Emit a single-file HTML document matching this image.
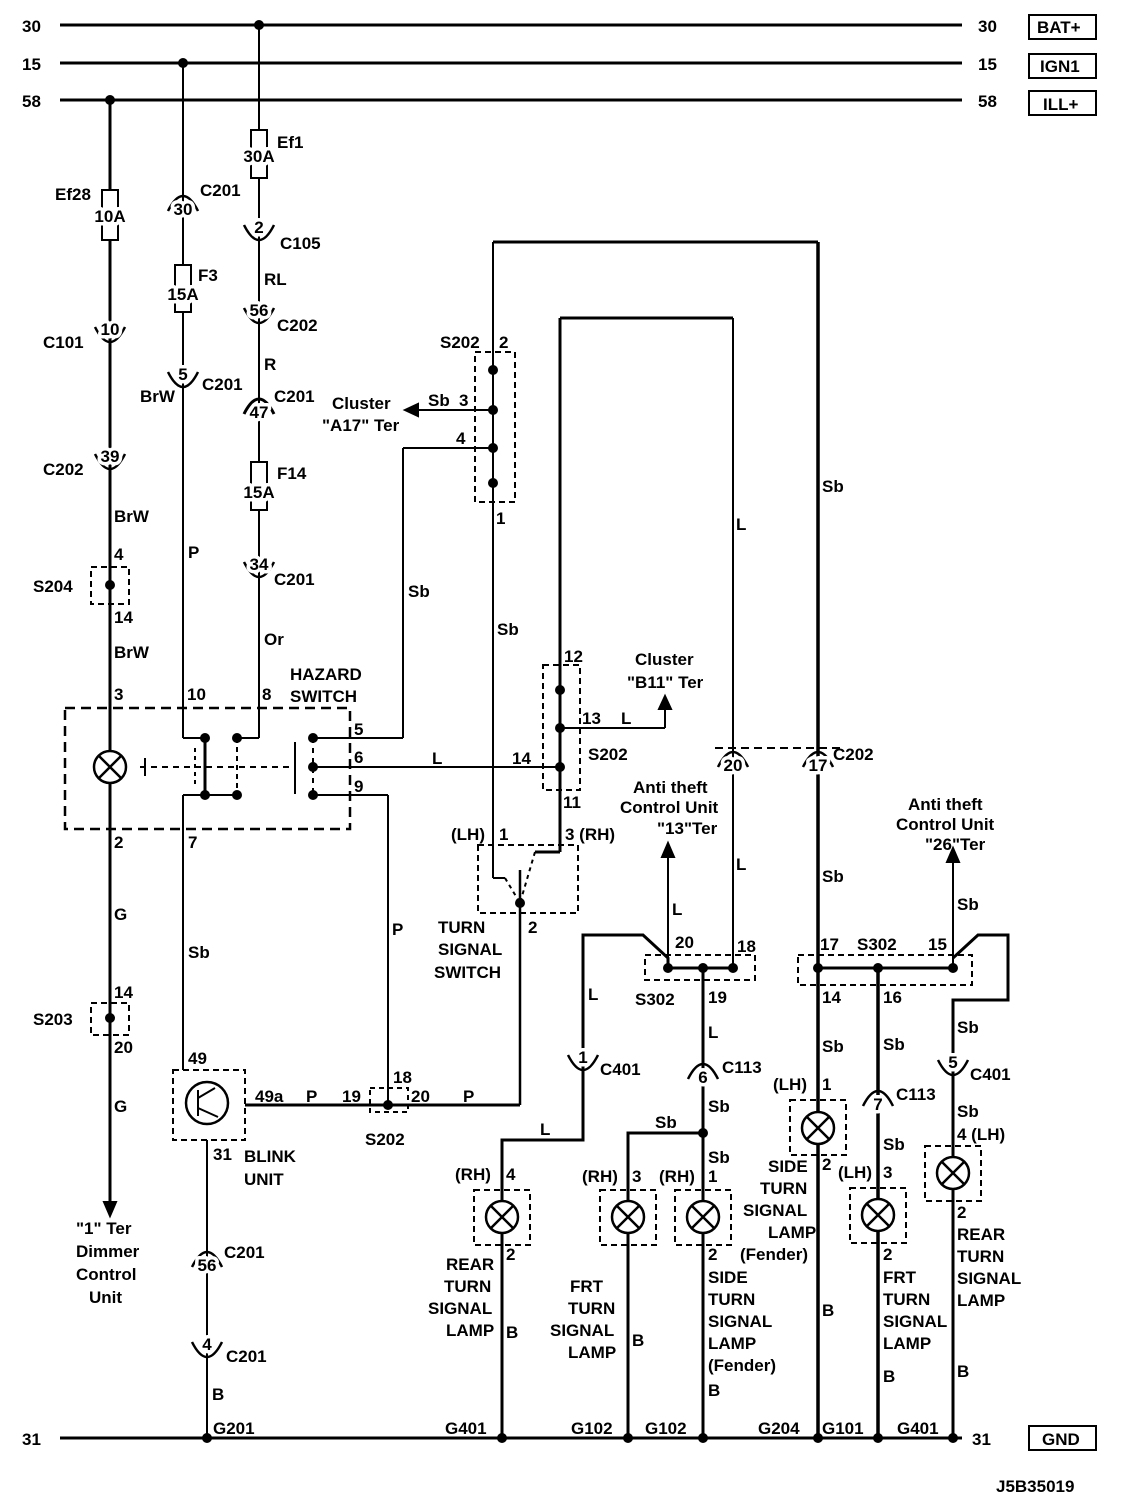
<!DOCTYPE html>
<html><head><meta charset="utf-8"><style>
html,body{margin:0;padding:0;background:#fff}
svg{display:block}
text{font-family:"Liberation Sans",Arial,sans-serif;font-size:17px;font-weight:bold;fill:#000}
text.k{paint-order:stroke;stroke:#fff;stroke-width:7px;stroke-linejoin:round}
</style></head><body>
<svg width="1136" height="1500" viewBox="0 0 1136 1500" xmlns="http://www.w3.org/2000/svg">
<g stroke="#000" fill="none" stroke-width="2">
<!-- buses -->
<line x1="60" y1="25" x2="962" y2="25" stroke-width="3"/>
<line x1="60" y1="63" x2="962" y2="63" stroke-width="3"/>
<line x1="60" y1="100" x2="962" y2="100" stroke-width="3"/>
<line x1="60" y1="1438" x2="962" y2="1438" stroke-width="3"/>
<rect x="1029" y="15" width="67" height="24"/>
<rect x="1029" y="54" width="67" height="24"/>
<rect x="1029" y="91" width="67" height="24"/>
<rect x="1029" y="1426" width="67" height="24"/>

<!-- x=110 -->
<line x1="110" y1="100" x2="110" y2="190" stroke-width="3"/>
<rect x="102" y="190" width="16" height="50"/>
<line x1="110" y1="240" x2="110" y2="1205" stroke-width="3"/>
<rect x="91" y="567" width="38" height="37" stroke-dasharray="6,4"/>
<rect x="91" y="1003" width="38" height="32" stroke-dasharray="6,4"/>

<!-- x=183 -->
<line x1="183" y1="63" x2="183" y2="265"/>
<rect x="175" y="265" width="16" height="47"/>
<line x1="183" y1="312" x2="183" y2="738"/>
<line x1="183" y1="738" x2="205" y2="738"/>

<!-- x=259 -->
<line x1="259" y1="25" x2="259" y2="130"/>
<rect x="251" y="130" width="16" height="48"/>
<line x1="259" y1="178" x2="259" y2="462"/>
<rect x="251" y="462" width="16" height="48"/>
<line x1="259" y1="510" x2="259" y2="738"/>
<line x1="259" y1="738" x2="237" y2="738"/>

<!-- hazard switch -->
<rect x="65" y="708" width="285" height="121" stroke-dasharray="10,6" stroke-width="2.5"/>
<line x1="205" y1="738" x2="205" y2="795" stroke-width="3"/>
<line x1="237" y1="738" x2="237" y2="795" stroke-dasharray="5,4"/>
<line x1="183" y1="795" x2="237" y2="795"/>
<line x1="183" y1="795" x2="183" y2="1070"/>
<line x1="140" y1="767" x2="290" y2="767" stroke-dasharray="6,5"/>
<line x1="145" y1="758" x2="145" y2="776"/>
<line x1="195" y1="748" x2="195" y2="788" stroke-dasharray="4,4"/>
<line x1="295" y1="742" x2="295" y2="794"/>
<line x1="313" y1="738" x2="313" y2="795" stroke-dasharray="5,5"/>
<line x1="313" y1="738" x2="403" y2="738"/>
<line x1="403" y1="738" x2="403" y2="448"/>
<line x1="403" y1="448" x2="493" y2="448"/>
<line x1="313" y1="767" x2="560" y2="767"/>
<line x1="313" y1="795" x2="388" y2="795"/>
<line x1="388" y1="795" x2="388" y2="1105"/>

<!-- 493 / 818 loop -->
<line x1="493" y1="242" x2="818" y2="242" stroke-width="3"/>
<line x1="493" y1="242" x2="493" y2="878"/>
<line x1="493" y1="878" x2="505" y2="878"/>
<line x1="818" y1="242" x2="818" y2="1438" stroke-width="3.5"/>
<rect x="475" y="352" width="40" height="150" stroke-dasharray="6,4"/>
<line x1="493" y1="410" x2="415" y2="410"/>
<path d="M405 410 L418 404 L418 416 Z" fill="#000"/>

<!-- 560 / 733 loop -->
<line x1="560" y1="318" x2="733" y2="318" stroke-width="3"/>
<line x1="560" y1="318" x2="560" y2="852" stroke-width="3"/>
<line x1="560" y1="852" x2="535" y2="852" stroke-width="3"/>
<line x1="733" y1="318" x2="733" y2="968"/>
<rect x="543" y="665" width="37" height="125" stroke-dasharray="6,4"/>
<line x1="560" y1="728" x2="665" y2="728"/>
<line x1="665" y1="728" x2="665" y2="705"/>
<path d="M665 696 L659 709 L671 709 Z" fill="#000"/>

<!-- turn signal switch -->
<rect x="478" y="845" width="100" height="68" stroke-dasharray="6,4"/>
<line x1="505" y1="878" x2="520" y2="903" stroke-dasharray="4,4"/>
<line x1="535" y1="852" x2="520" y2="903" stroke-dasharray="4,4"/>
<line x1="520" y1="870" x2="520" y2="1105" stroke-width="2.5"/>
<line x1="388" y1="1105" x2="520" y2="1105" stroke-width="3"/>
<line x1="245" y1="1105" x2="388" y2="1105" stroke-width="3"/>
<rect x="370" y="1088" width="38" height="24" stroke-dasharray="5,4"/>

<!-- blink unit -->
<rect x="173" y="1070" width="72" height="70" stroke-dasharray="6,4"/>
<circle cx="207" cy="1103" r="21" stroke-width="2.5"/>
<line x1="198" y1="1090" x2="198" y2="1116"/>
<line x1="198" y1="1098" x2="215" y2="1088"/>
<line x1="198" y1="1108" x2="218" y2="1117"/>
<line x1="207" y1="1140" x2="207" y2="1438"/>

<!-- C202 dashed -->
<line x1="715" y1="748" x2="845" y2="748" stroke-dasharray="8,5"/>

<!-- S302 left -->
<rect x="645" y="955" width="110" height="25" stroke-dasharray="6,4"/>
<line x1="668" y1="968" x2="733" y2="968" stroke-width="3"/>
<polyline points="583,1065 583,935 643,935 668,958 668,968" stroke-width="3"/>
<line x1="668" y1="968" x2="668" y2="855"/>
<path d="M668 843 L662 857 L674 857 Z" fill="#000"/>
<line x1="703" y1="968" x2="703" y2="1438" stroke-width="3"/>
<polyline points="703,1133 628,1133 628,1438" stroke-width="3"/>
<polyline points="583,1065 583,1140 502,1140 502,1438" stroke-width="3"/>

<!-- S302 right -->
<rect x="798" y="955" width="174" height="30" stroke-dasharray="6,4"/>
<line x1="818" y1="968" x2="953" y2="968" stroke-width="3"/>
<line x1="878" y1="968" x2="878" y2="1438" stroke-width="3.5"/>
<line x1="953" y1="968" x2="953" y2="860"/>
<path d="M953 848 L947 862 L959 862 Z" fill="#000"/>
<polyline points="953,958 978,935 1008,935 1008,1000 953,1000 953,1438" stroke-width="3"/>

<!-- arrow down -->
<path d="M110 1216 L104 1202 L116 1202 Z" fill="#000"/>

<!-- cups (number above inside): M x-15,yb-8 Q x,yb+22 x+15,yb-8 -->
<path d="M95 327 Q110 357 125 327" stroke-width="2.5"/>
<path d="M95 454 Q110 484 125 454" stroke-width="2.5"/>
<path d="M168 372 Q183 402 198 372" stroke-width="2.5"/>
<path d="M244 225 Q259 255 274 225" stroke-width="2.5"/>
<path d="M244 308 Q259 338 274 308" stroke-width="2.5"/>
<path d="M244 562 Q259 592 274 562" stroke-width="2.5"/>
<path d="M568 1055 Q583 1085 598 1055" stroke-width="2.5"/>
<path d="M938 1060 Q953 1090 968 1060" stroke-width="2.5"/>
<path d="M192 1342 Q207 1372 222 1342" stroke-width="2.5"/>
<!-- caps (number below inside): M x-15,yb-4 Q x,yb-34 x+15,yb-4 -->
<path d="M168 211 Q183 181 198 211" stroke-width="2.5"/>
<path d="M244 414 Q259 384 274 414" stroke-width="3"/>
<path d="M688 1079 Q703 1049 718 1079" stroke-width="2.5"/>
<path d="M863 1106 Q878 1076 893 1106" stroke-width="2.5"/>
<path d="M192 1267 Q207 1237 222 1267" stroke-width="2.5"/>
<path d="M718 767 Q733 737 748 767" stroke-width="2.5"/>
<path d="M803 767 Q818 737 833 767" stroke-width="2.5"/>

<!-- lamps -->
<rect x="474" y="1190" width="56" height="55" stroke-dasharray="6,4"/>
<rect x="600" y="1190" width="56" height="55" stroke-dasharray="6,4"/>
<rect x="675" y="1190" width="56" height="55" stroke-dasharray="6,4"/>
<rect x="790" y="1100" width="56" height="55" stroke-dasharray="6,4"/>
<rect x="850" y="1188" width="56" height="55" stroke-dasharray="6,4"/>
<rect x="925" y="1146" width="56" height="55" stroke-dasharray="6,4"/>
</g>
<g stroke="#000" stroke-width="2.5" fill="#fff">
<circle cx="110" cy="767" r="16"/>
<circle cx="502" cy="1217" r="16"/>
<circle cx="628" cy="1217" r="16"/>
<circle cx="703" cy="1217" r="16"/>
<circle cx="818" cy="1128" r="16"/>
<circle cx="878" cy="1215" r="16"/>
<circle cx="953" cy="1173" r="16"/>
</g>
<g stroke="#000" stroke-width="2.5">
<path d="M99 756 L121 778 M121 756 L99 778"/>
<path d="M491 1206 L513 1228 M513 1206 L491 1228"/>
<path d="M617 1206 L639 1228 M639 1206 L617 1228"/>
<path d="M692 1206 L714 1228 M714 1206 L692 1228"/>
<path d="M807 1117 L829 1139 M829 1117 L807 1139"/>
<path d="M867 1204 L889 1226 M889 1204 L867 1226"/>
<path d="M942 1162 L964 1184 M964 1162 L942 1184"/>
</g>
<g fill="#000">
<circle cx="259" cy="25" r="5"/><circle cx="183" cy="63" r="5"/><circle cx="110" cy="100" r="5"/>
<circle cx="110" cy="585" r="5"/><circle cx="110" cy="1018" r="5"/>
<circle cx="205" cy="738" r="5"/><circle cx="237" cy="738" r="5"/>
<circle cx="205" cy="795" r="5"/><circle cx="237" cy="795" r="5"/>
<circle cx="313" cy="738" r="5"/><circle cx="313" cy="767" r="5"/><circle cx="313" cy="795" r="5"/>
<circle cx="493" cy="370" r="5"/><circle cx="493" cy="410" r="5"/><circle cx="493" cy="448" r="5"/><circle cx="493" cy="483" r="5"/>
<circle cx="560" cy="690" r="5"/><circle cx="560" cy="728" r="5"/><circle cx="560" cy="767" r="5"/>
<circle cx="520" cy="903" r="5"/><circle cx="388" cy="1105" r="5"/>
<circle cx="668" cy="968" r="5"/><circle cx="703" cy="968" r="5"/><circle cx="733" cy="968" r="5"/>
<circle cx="818" cy="968" r="5"/><circle cx="878" cy="968" r="5"/><circle cx="953" cy="968" r="5"/>
<circle cx="703" cy="1133" r="5"/>
<circle cx="207" cy="1438" r="5"/><circle cx="502" cy="1438" r="5"/><circle cx="628" cy="1438" r="5"/><circle cx="703" cy="1438" r="5"/>
<circle cx="818" cy="1438" r="5"/><circle cx="878" cy="1438" r="5"/><circle cx="953" cy="1438" r="5"/>
</g>

<!-- connector numbers & fuse ratings (wire broken) -->
<g text-anchor="middle">
<text class="k" x="110" y="222">10A</text>
<text class="k" x="259" y="162">30A</text>
<text class="k" x="183" y="300">15A</text>
<text class="k" x="259" y="498">15A</text>
<text class="k" x="110" y="335">10</text>
<text class="k" x="110" y="462">39</text>
<text class="k" x="183" y="380">5</text>
<text class="k" x="259" y="233">2</text>
<text class="k" x="259" y="316">56</text>
<text class="k" x="259" y="570">34</text>
<text class="k" x="583" y="1063">1</text>
<text class="k" x="953" y="1068">5</text>
<text class="k" x="207" y="1350">4</text>
<text class="k" x="183" y="215">30</text>
<text class="k" x="259" y="418">47</text>
<text class="k" x="703" y="1083">6</text>
<text class="k" x="878" y="1110">7</text>
<text class="k" x="207" y="1271">56</text>
<text class="k" x="733" y="771">20</text>
<text class="k" x="818" y="771">17</text>
</g>

<!-- labels -->
<text x="22" y="32">30</text><text x="22" y="70">15</text><text x="22" y="107">58</text><text x="22" y="1445">31</text>
<text x="978" y="32">30</text><text x="978" y="70">15</text><text x="978" y="107">58</text><text x="972" y="1445">31</text>
<text x="1037" y="33">BAT+</text><text x="1040" y="72">IGN1</text><text x="1043" y="110">ILL+</text><text x="1042" y="1445">GND</text>
<text x="996" y="1492">J5B35019</text>

<text x="55" y="200">Ef28</text>
<text x="43" y="348">C101</text>
<text x="140" y="402">BrW</text>
<text x="43" y="475">C202</text>
<text x="114" y="522">BrW</text>
<text x="114" y="560">4</text><text x="33" y="592">S204</text><text x="114" y="623">14</text>
<text x="114" y="658">BrW</text>
<text x="114" y="700">3</text>
<text x="114" y="848">2</text>
<text x="114" y="920">G</text>
<text x="114" y="998">14</text><text x="33" y="1025">S203</text><text x="114" y="1053">20</text>
<text x="114" y="1112">G</text>
<text x="76" y="1234">"1" Ter</text><text x="76" y="1257">Dimmer</text><text x="76" y="1280">Control</text><text x="89" y="1303">Unit</text>

<text x="200" y="196">C201</text>
<text x="198" y="281">F3</text>
<text x="202" y="390">C201</text>
<text x="188" y="558">P</text>
<text x="187" y="700">10</text>
<text x="188" y="848">7</text>
<text x="188" y="958">Sb</text>
<text x="188" y="1064">49</text>

<text x="277" y="148">Ef1</text>
<text x="280" y="249">C105</text>
<text x="264" y="285">RL</text>
<text x="277" y="331">C202</text>
<text x="264" y="370">R</text>
<text x="274" y="402">C201</text>
<text x="277" y="479">F14</text>
<text x="274" y="585">C201</text>
<text x="264" y="645">Or</text>
<text x="262" y="700">8</text>
<text x="290" y="680">HAZARD</text><text x="290" y="702">SWITCH</text>
<text x="354" y="735">5</text><text x="354" y="763">6</text><text x="354" y="792">9</text>
<text x="408" y="597">Sb</text>
<text x="432" y="764">L</text>
<text x="392" y="935">P</text>
<text x="255" y="1102">49a</text><text x="306" y="1102">P</text><text x="342" y="1102">19</text>
<text x="393" y="1083">18</text><text x="411" y="1102">20</text><text x="463" y="1102">P</text>
<text x="365" y="1145">S202</text>
<text x="213" y="1160">31</text><text x="244" y="1162">BLINK</text><text x="244" y="1185">UNIT</text>
<text x="212" y="1400">B</text>
<text x="224" y="1258">C201</text>
<text x="226" y="1362">C201</text>
<text x="213" y="1434">G201</text>

<text x="440" y="348">S202</text><text x="499" y="348">2</text>
<text x="332" y="409">Cluster</text><text x="322" y="431">"A17" Ter</text>
<text x="428" y="406">Sb</text><text x="459" y="406">3</text>
<text x="456" y="444">4</text>
<text x="496" y="524">1</text>
<text x="497" y="635">Sb</text>
<text x="822" y="492">Sb</text>
<text x="736" y="530">L</text>

<text x="564" y="662">12</text><text x="635" y="665">Cluster</text><text x="627" y="688">"B11" Ter</text>
<text x="582" y="724">13</text><text x="621" y="724">L</text>
<text x="512" y="764">14</text><text x="588" y="760">S202</text>
<text x="563" y="808">11</text>
<text x="451" y="840">(LH)</text><text x="499" y="840">1</text><text x="565" y="840">3 (RH)</text>
<text x="528" y="933">2</text>
<text x="438" y="933">TURN</text><text x="438" y="955">SIGNAL</text><text x="434" y="978">SWITCH</text>

<text x="833" y="760">C202</text>
<text x="633" y="793">Anti theft</text><text x="620" y="813">Control Unit</text><text x="657" y="834">"13"Ter</text>
<text x="736" y="870">L</text>
<text x="672" y="915">L</text>
<text x="675" y="948">20</text><text x="737" y="952">18</text>
<text x="635" y="1005">S302</text><text x="708" y="1003">19</text>
<text x="588" y="1000">L</text>
<text x="708" y="1038">L</text>
<text x="600" y="1075">C401</text>
<text x="722" y="1073">C113</text>
<text x="708" y="1112">Sb</text><text x="655" y="1128">Sb</text>
<text x="540" y="1135">L</text>
<text x="708" y="1163">Sb</text>

<text x="822" y="882">Sb</text>
<text x="908" y="810">Anti theft</text><text x="896" y="830">Control Unit</text><text x="925" y="850">"26"Ter</text>
<text x="957" y="910">Sb</text>
<text x="820" y="950">17</text><text x="857" y="950">S302</text><text x="928" y="950">15</text>
<text x="822" y="1003">14</text><text x="883" y="1003">16</text>
<text x="957" y="1033">Sb</text>
<text x="822" y="1052">Sb</text><text x="883" y="1050">Sb</text>
<text x="970" y="1080">C401</text>
<text x="896" y="1100">C113</text>
<text x="957" y="1117">Sb</text>
<text x="957" y="1140">4 (LH)</text>
<text x="883" y="1150">Sb</text>
<text x="773" y="1090">(LH)</text><text x="822" y="1090">1</text>
<text x="822" y="1170">2</text>
<text x="768" y="1172">SIDE</text><text x="760" y="1194">TURN</text><text x="743" y="1216">SIGNAL</text><text x="768" y="1238">LAMP</text><text x="740" y="1260">(Fender)</text>
<text x="822" y="1316">B</text>
<text x="838" y="1178">(LH)</text><text x="883" y="1178">3</text>
<text x="883" y="1260">2</text><text x="883" y="1283">FRT</text><text x="883" y="1305">TURN</text><text x="883" y="1327">SIGNAL</text><text x="883" y="1349">LAMP</text>
<text x="883" y="1382">B</text>
<text x="957" y="1218">2</text><text x="957" y="1240">REAR</text><text x="957" y="1262">TURN</text><text x="957" y="1284">SIGNAL</text><text x="957" y="1306">LAMP</text>
<text x="957" y="1377">B</text>

<text x="455" y="1180">(RH)</text><text x="506" y="1180">4</text>
<text x="506" y="1260">2</text>
<text x="446" y="1270">REAR</text><text x="444" y="1292">TURN</text><text x="428" y="1314">SIGNAL</text><text x="446" y="1336">LAMP</text><text x="506" y="1338">B</text>
<text x="582" y="1182">(RH)</text><text x="632" y="1182">3</text>
<text x="659" y="1182">(RH)</text><text x="708" y="1182">1</text>
<text x="632" y="1346">B</text>
<text x="570" y="1292">FRT</text><text x="568" y="1314">TURN</text><text x="550" y="1336">SIGNAL</text><text x="568" y="1358">LAMP</text>
<text x="708" y="1260">2</text><text x="708" y="1283">SIDE</text><text x="708" y="1305">TURN</text><text x="708" y="1327">SIGNAL</text><text x="708" y="1349">LAMP</text><text x="708" y="1371">(Fender)</text><text x="708" y="1396">B</text>

<text x="445" y="1434">G401</text><text x="571" y="1434">G102</text><text x="645" y="1434">G102</text>
<text x="758" y="1434">G204</text><text x="822" y="1434">G101</text><text x="897" y="1434">G401</text>
</svg>
</body></html>
